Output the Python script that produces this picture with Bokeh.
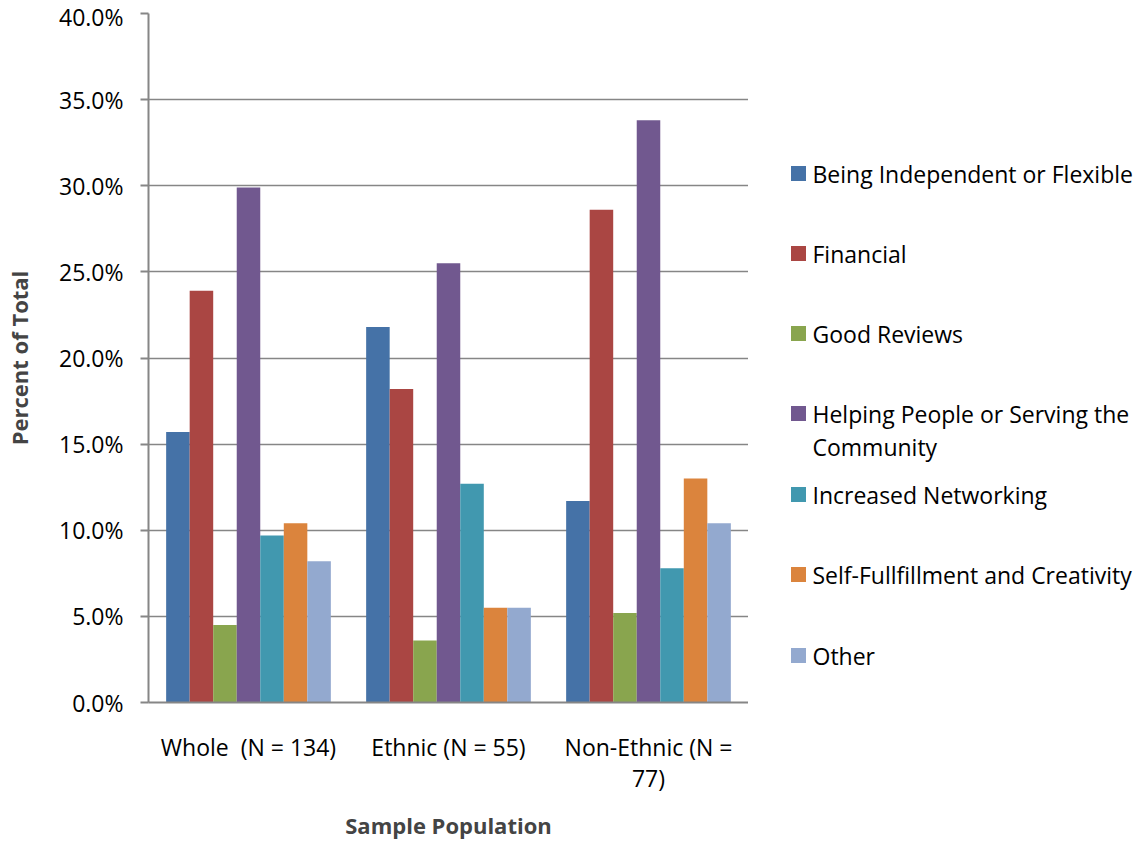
from bokeh.plotting import figure
from bokeh.models import ColumnDataSource, FactorRange, Range1d, FixedTicker, PrintfTickFormatter
from bokeh.transform import dodge
from bokeh.layouts import row
from bokeh.core.properties import value
from bokeh.embed import file_html
from bokeh.resources import INLINE

# Sample populations (x categories)
groups = ["Whole \u00a0(N = 134)", "Ethnic (N = 55)", "Non-Ethnic (N =\n77)"]

# Motivation categories (series)
series = [
    "Being Independent or Flexible",
    "Financial",
    "Good Reviews",
    "Helping People or Serving the\nCommunity",
    "Increased Networking",
    "Self-Fullfillment and Creativity",
    "Other",
]

# Percent of total for each series, per population
independent = [15.7, 21.8, 11.7]
financial = [23.9, 18.2, 28.6]
good_reviews = [4.5, 3.6, 5.2]
helping = [29.9, 25.5, 33.8]
networking = [9.7, 12.7, 7.8]
fulfillment = [10.4, 5.5, 13.0]
other = [8.2, 5.5, 10.4]

y_ticks = [0, 5, 10, 15, 20, 25, 30, 35, 40]

colors = ["#4572A7", "#AA4643", "#89A54E", "#71588F", "#4198AF", "#DB843D", "#93A9CF"]

FONT = "Open Sans"
GRID = "#868686"

# frame geometry (pixels)
TOP, BOTTOM = 13, 141

source = ColumnDataSource(dict(
    group=groups,
    s0=independent, s1=financial, s2=good_reviews, s3=helping,
    s4=networking, s5=fulfillment, s6=other,
))

p = figure(
    x_range=FactorRange(*groups), y_range=Range1d(0, 40),
    width=748, height=843,
    min_border_left=148, min_border_right=0, min_border_top=TOP, min_border_bottom=BOTTOM,
    output_backend="svg", toolbar_location=None,
)

n = len(series)
bar_w = 1.0 / (n + 1.5)  # 150% gap between groups
for i in range(n):
    off = (i - (n - 1) / 2) * bar_w
    p.vbar(x=dodge("group", off, range=p.x_range), top=f"s{i}", width=bar_w,
           bottom=0, source=source, fill_color=colors[i], line_color=None)

# y axis
p.yaxis.ticker = FixedTicker(ticks=y_ticks)
p.yaxis.formatter = PrintfTickFormatter(format="%.1f%%")
p.yaxis.axis_label = "Percent of Total"
p.yaxis.axis_label_text_font = FONT
p.yaxis.axis_label_text_font_style = "bold"
p.yaxis.axis_label_text_font_size = "22px"
p.yaxis.axis_label_standoff = 22
p.yaxis.major_label_text_font = FONT
p.yaxis.major_label_text_font_size = "23px"
p.yaxis.major_label_text_color = "#000000"
p.yaxis.major_label_standoff = 17
p.yaxis.major_tick_out = 8
p.yaxis.major_tick_in = 0
p.yaxis.minor_tick_out = 0
p.yaxis.minor_tick_in = 0
p.yaxis.axis_line_color = GRID
p.yaxis.axis_line_width = 2
p.yaxis.major_tick_line_color = GRID
p.yaxis.major_tick_line_width = 2

# x axis
p.xaxis.axis_label = "Sample Population"
p.xaxis.axis_label_text_font = FONT
p.xaxis.axis_label_text_font_style = "bold"
p.xaxis.axis_label_text_font_size = "22px"
p.xaxis.axis_label_standoff = 13
p.xaxis.major_label_text_font = FONT
p.xaxis.major_label_text_font_size = "23px"
p.xaxis.major_label_text_line_height = 0.97
p.xaxis.major_label_text_color = "#000000"
p.xaxis.major_label_standoff = 28
p.xaxis.major_tick_out = 0
p.xaxis.major_tick_in = 0
p.xaxis.axis_line_color = GRID
p.xaxis.axis_line_width = 2

p.xgrid.grid_line_color = None
p.ygrid.grid_line_color = GRID
p.ygrid.grid_line_width = 1.5
p.outline_line_color = None
p.background_fill_color = "white"
p.border_fill_color = "white"

# Legend panel to the right of the chart; its y range is in page pixels
leg = figure(
    width=397, height=843, x_range=Range1d(0, 397), y_range=Range1d(843 - BOTTOM, TOP),
    min_border_left=0, min_border_right=0, min_border_top=TOP, min_border_bottom=BOTTOM,
    output_backend="svg", toolbar_location=None,
)
leg.axis.visible = False
leg.grid.visible = False
leg.outline_line_color = None

row_y = [173, 253, 333, 413, 494, 574, 655]
leg_src = ColumnDataSource(dict(
    x=[50] * n, tx=[64] * n, y=row_y, ty=[y - 16 for y in row_y],
    label=series, color=colors,
))
leg.scatter(x="x", y="y", marker="square", size=15, fill_color="color",
            line_color=None, source=leg_src)
leg.text(x="tx", y="ty", text="label", source=leg_src, text_font=value(FONT),
         text_font_size="23px", text_baseline="top", text_align="left",
         text_line_height=1.05, text_color="#000000")

layout = row(p, leg, spacing=0)
open("out.html", "w").write(file_html(layout, INLINE))
